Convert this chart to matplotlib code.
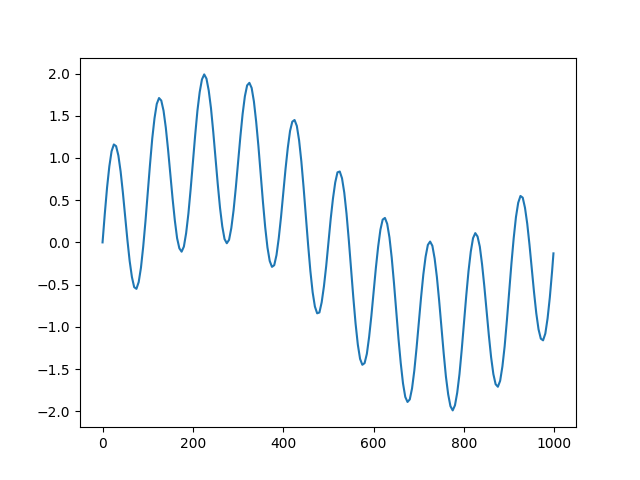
import numpy as np
import matplotlib
matplotlib.use("Agg")
import matplotlib.pyplot as plt

# sample positions (every 5th sample, plus the last one)
sample_x = list(range(0, 1000, 5)) + [998]

# signal values at those positions
signal_y = [
    0.00, 0.34, 0.65, 0.90, 1.08, 1.16, 1.14, 1.03, 0.84, 0.59,
    0.31, 0.03, -0.22, -0.41, -0.53, -0.55, -0.47, -0.30, -0.05, 0.25,
    0.59, 0.92, 1.23, 1.47, 1.64, 1.71, 1.68, 1.56, 1.36, 1.10,
    0.81, 0.52, 0.26, 0.05, -0.07, -0.11, -0.05, 0.11, 0.34, 0.63,
    0.95, 1.27, 1.56, 1.78, 1.93, 1.99, 1.94, 1.80, 1.59, 1.31,
    1.00, 0.69, 0.41, 0.19, 0.04, -0.01, 0.03, 0.17, 0.38, 0.65,
    0.95, 1.25, 1.52, 1.73, 1.86, 1.89, 1.83, 1.67, 1.43, 1.14,
    0.81, 0.48, 0.18, -0.06, -0.22, -0.29, -0.27, -0.15, 0.05, 0.30,
    0.59, 0.87, 1.12, 1.32, 1.43, 1.45, 1.38, 1.21, 0.96, 0.65,
    0.31, -0.03, -0.34, -0.59, -0.76, -0.84, -0.83, -0.71, -0.52, -0.28,
    0.00, 0.28, 0.52, 0.71, 0.83, 0.84, 0.76, 0.59, 0.34, 0.03,
    -0.31, -0.65, -0.96, -1.21, -1.38, -1.45, -1.43, -1.32, -1.12, -0.87,
    -0.59, -0.30, -0.05, 0.15, 0.27, 0.29, 0.22, 0.06, -0.18, -0.48,
    -0.81, -1.14, -1.43, -1.67, -1.83, -1.89, -1.86, -1.73, -1.52, -1.25,
    -0.95, -0.65, -0.38, -0.17, -0.03, 0.01, -0.04, -0.19, -0.41, -0.69,
    -1.00, -1.31, -1.59, -1.80, -1.94, -1.99, -1.93, -1.78, -1.56, -1.27,
    -0.95, -0.63, -0.34, -0.11, 0.05, 0.11, 0.07, -0.05, -0.26, -0.52,
    -0.81, -1.10, -1.36, -1.56, -1.68, -1.71, -1.64, -1.47, -1.23, -0.92,
    -0.59, -0.25, 0.05, 0.30, 0.47, 0.55, 0.53, 0.41, 0.22, -0.03,
    -0.31, -0.59, -0.84, -1.03, -1.14, -1.16, -1.08, -0.90, -0.65, -0.34,
    -0.13,
]

fig, ax = plt.subplots(figsize=(6.4, 4.8), dpi=100)
ax.plot(np.array(sample_x), np.array(signal_y))
fig.savefig("out.png")
